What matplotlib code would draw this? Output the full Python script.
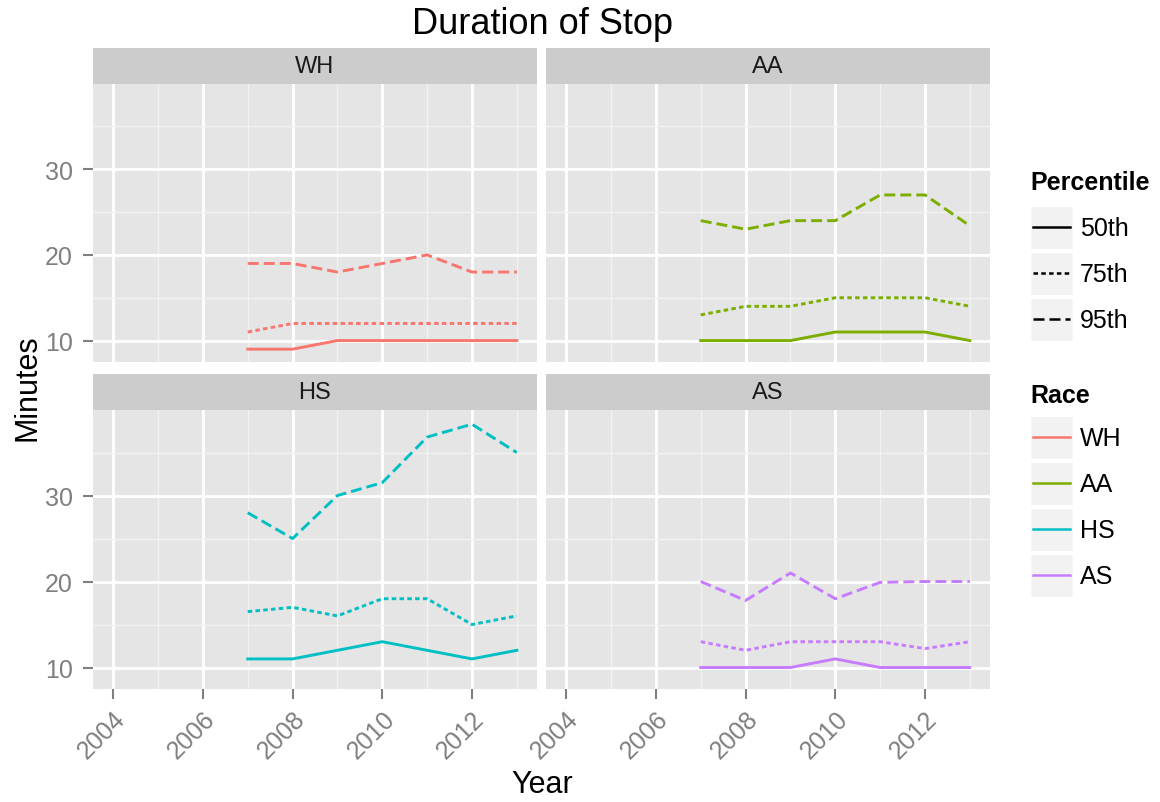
import matplotlib
matplotlib.use('Agg')
import matplotlib.pyplot as plt
from matplotlib.patches import Rectangle
from matplotlib.lines import Line2D

plt.rcParams['font.family'] = ['Liberation Sans', 'DejaVu Sans']

# data
years = [2007, 2008, 2009, 2010, 2011, 2012, 2013]
races = ['WH', 'AA', 'HS', 'AS']
percentiles = ['50th', '75th', '95th']

wh_50 = [9, 9, 10, 10, 10, 10, 10]
wh_75 = [11, 12, 12, 12, 12, 12, 12]
wh_95 = [19, 19, 18, 19, 20, 18, 18]
aa_50 = [10, 10, 10, 11, 11, 11, 10]
aa_75 = [13, 14, 14, 15, 15, 15, 14]
aa_95 = [24, 23, 24, 24, 27, 27, 23.4]
hs_50 = [11, 11, 12, 13, 12, 11, 12]
hs_75 = [16.5, 17, 16, 18, 18, 15, 16]
hs_95 = [28, 25, 30, 31.5, 36.8, 38.3, 35]
as_50 = [10, 10, 10, 11, 10, 10, 10]
as_75 = [13, 12, 13, 13, 13, 12.2, 13]
as_95 = [20, 17.8, 21, 18, 19.9, 20, 20]

series = {'WH': [wh_50, wh_75, wh_95],
          'AA': [aa_50, aa_75, aa_95],
          'HS': [hs_50, hs_75, hs_95],
          'AS': [as_50, as_75, as_95]}

race_colors = ['#F8766D', '#7CAE00', '#00BFC4', '#C77CFF']

W, H = 1160, 803


def rect(l, t, r, b):
    return [l / W, 1 - b / H, (r - l) / W, (b - t) / H]


def dash(kind, lw):
    # dash patterns in pixels, converted to matplotlib's lw units
    if kind == '50th':
        return '-'
    if kind == '75th':
        on, off = 4.5, 3.3
    else:
        on, off = 11, 5
    return (0, (on * 0.72 / lw, off * 0.72 / lw))


fig = plt.figure(figsize=(W / 100, H / 100), dpi=100)

panels = {'WH': (93, 85, 537, 363), 'AA': (546, 85, 990, 363),
          'HS': (93, 411, 537, 690), 'AS': (546, 411, 990, 690)}
grey50 = '#7F7F7F'
lw = 2.1

for i, race in enumerate(races):
    l, t, r, b = panels[race]
    ax = fig.add_axes(rect(l, t, r, b))
    ax.set_facecolor('#E5E5E5')
    for s in ax.spines.values():
        s.set_visible(False)
    ax.set_xlim(2003.55, 2013.45)
    ax.set_ylim(7.5, 39.95)
    ax.set_xticks([2004, 2006, 2008, 2010, 2012])
    ax.set_xticks([2005, 2007, 2009, 2011, 2013], minor=True)
    ax.set_yticks([10, 20, 30])
    ax.set_yticks([15, 25, 35], minor=True)
    ax.grid(which='major', color='white', lw=2.0)
    ax.grid(which='minor', color='#F2F2F2', lw=1.0)
    ax.set_axisbelow(True)
    ax.tick_params(which='minor', length=0)
    ax.tick_params(which='major', length=7.5, width=1.5, color=grey50,
                   labelcolor=grey50, labelsize=18)
    ax.tick_params(axis='y', pad=7)
    ax.tick_params(axis='x', pad=5)
    bottom = i >= 2
    left = i % 2 == 0
    if not bottom:
        ax.tick_params(axis='x', length=0, labelbottom=False)
    else:
        for lab in ax.get_xticklabels():
            lab.set_rotation(45)
            lab.set_ha('right')
            lab.set_va('top')
            lab.set_rotation_mode('anchor')
    if not left:
        ax.tick_params(axis='y', length=0, labelleft=False)

    for k, p in enumerate(percentiles):
        ax.plot(years, series[race][k], color=race_colors[i], lw=lw,
                linestyle=dash(p, lw), dash_capstyle='butt')

    sx = fig.add_axes(rect(l, t - 36, r, t))
    sx.set_facecolor('#CCCCCC')
    sx.set_xticks([])
    sx.set_yticks([])
    for s in sx.spines.values():
        s.set_visible(False)
    sx.text(0.5, 0.5, race, ha='center', va='center', fontsize=17,
            color='#1A1A1A', transform=sx.transAxes)

fig.text(542 / W, 1 - 24 / H, 'Duration of Stop', ha='center', va='center',
         fontsize=26)
fig.text(542 / W, 1 - 785 / H, 'Year', ha='center', va='center', fontsize=22)
fig.text(27 / W, 1 - 388 / H, 'Minutes', ha='center', va='center',
         fontsize=22, rotation=90)

# legends, drawn in pixel coordinates
lg = fig.add_axes(rect(995, 160, 1160, 610))
lg.set_xlim(995, 1160)
lg.set_ylim(610, 160)
lg.axis('off')


def key_box(top):
    lg.add_patch(Rectangle((1030, top), 43, 43, facecolor='#F2F2F2',
                           edgecolor='white', lw=1))


lg.text(1030, 183, 'Percentile', fontsize=18, fontweight='bold',
        ha='left', va='center')
for k, p in enumerate(percentiles):
    top = 207 + 46 * k
    key_box(top)
    lg.add_line(Line2D([1033, 1070], [top + 21.5, top + 21.5], color='black',
                       lw=1.8, linestyle=dash(p, 1.8), dash_capstyle='butt'))
    lg.text(1080, top + 22, p, fontsize=18, ha='left', va='center')

lg.text(1030, 396, 'Race', fontsize=18, fontweight='bold',
        ha='left', va='center')
for k, race in enumerate(races):
    top = 417 + 46 * k
    key_box(top)
    lg.add_line(Line2D([1033, 1070], [top + 21.5, top + 21.5],
                       color=race_colors[k], lw=1.8))
    lg.text(1080, top + 22, race, fontsize=18, ha='left', va='center')

fig.savefig('out.png', dpi=100)
